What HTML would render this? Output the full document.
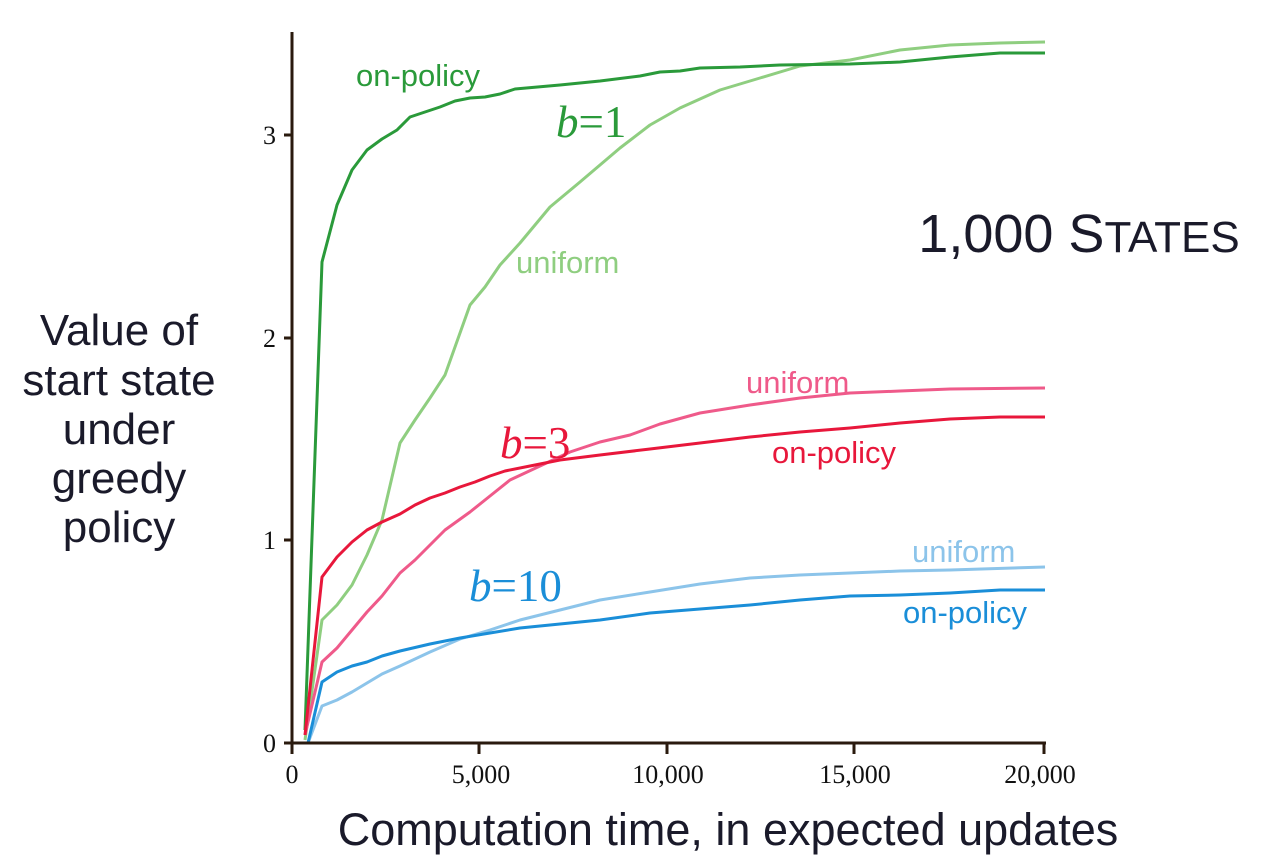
<!DOCTYPE html>
<html><head><meta charset="utf-8"><style>
html,body{margin:0;padding:0;background:#fff;}
svg{display:block;}
</style></head><body>
<svg width="1287" height="862" viewBox="0 0 1287 862" xmlns="http://www.w3.org/2000/svg">
<g fill="none" stroke-width="3" stroke-linejoin="round">
<polyline stroke="#8fce80" points="305,740 322,620 337,605 352,585 367,555 382,520 400,443 415,420 430,398 445,375 470,305 485,287 500,265 520,243 550,207 580,182 600,165 620,148 650,125 680,108 720,90 760,78 800,66 850,60 900,50 950,45 1000,43 1045,42"/>
<polyline stroke="#2a9a3a" points="305,730 322,262 337,205 352,170 367,150 382,139 397,130 410,117 425,112 440,107 455,101 470,98 485,97 500,94 515,89 560,85 600,81 640,76 660,72 680,71 700,68 740,67 780,65 850,64 900,62 950,57 1000,53 1045,53"/>
<polyline stroke="#ef5a8a" points="305,735 322,662 337,648 352,630 367,612 382,596 400,573 415,560 430,545 445,530 470,512 490,496 510,480 540,466 570,452 600,442 630,435 660,424 700,413 750,405 800,398 850,393 900,391 950,389 1045,388"/>
<polyline stroke="#e8173b" points="305,735 322,577 337,557 352,542 367,530 382,522 400,514 415,505 430,498 445,493 460,487 475,482 490,476 505,471 530,466 560,460 600,455 650,449 700,443 750,437 800,432 850,428 900,423 950,419 1000,417 1045,417"/>
<polyline stroke="#8cc4ea" points="308,743 322,706 337,700 352,692 367,683 382,674 400,666 430,652 460,639 490,630 520,620 560,610 600,600 650,592 700,584 750,578 800,575 850,573 900,571 950,570 1045,567"/>
<polyline stroke="#1a8ed8" points="308,743 322,682 337,672 352,666 367,662 382,656 400,651 430,644 460,638 490,633 520,628 560,624 600,620 650,613 700,609 750,605 800,600 850,596 900,595 950,593 1000,590 1045,590"/>
</g>
<g stroke="#2a1a0e" stroke-width="3">
<line x1="292" y1="32" x2="292" y2="745"/>
<line x1="290" y1="743" x2="1046" y2="743"/>
<line x1="292" y1="743" x2="292" y2="754"/>
<line x1="479" y1="743" x2="479" y2="754"/>
<line x1="667" y1="743" x2="667" y2="754"/>
<line x1="854" y1="743" x2="854" y2="754"/>
<line x1="1044" y1="743" x2="1044" y2="754"/>
<line x1="284" y1="743" x2="292" y2="743"/>
<line x1="284" y1="540" x2="292" y2="540"/>
<line x1="284" y1="338" x2="292" y2="338"/>
<line x1="284" y1="135" x2="292" y2="135"/>
</g>
<g font-family="Liberation Serif, serif" font-size="26" fill="#111">
<text x="276" y="752" text-anchor="end">0</text>
<text x="276" y="549" text-anchor="end">1</text>
<text x="276" y="347" text-anchor="end">2</text>
<text x="276" y="144" text-anchor="end">3</text>
<text x="292" y="783" text-anchor="middle">0</text>
<text x="481" y="783" text-anchor="middle">5,000</text>
<text x="668" y="783" text-anchor="middle">10,000</text>
<text x="855" y="783" text-anchor="middle">15,000</text>
<text x="1040" y="783" text-anchor="middle">20,000</text>
</g>
<g font-family="Liberation Sans, sans-serif" fill="#1a1a2a" font-size="44" text-anchor="middle">
<text x="119" y="345">Value of</text>
<text x="119" y="395">start state</text>
<text x="119" y="444">under</text>
<text x="119" y="493">greedy</text>
<text x="119" y="542">policy</text>
<text x="728" y="845" font-size="45">Computation time, in expected updates</text>
<text x="1079" y="252" font-size="54">1,000 S<tspan font-size="44">TATES</tspan></text>
</g>
<g font-family="Liberation Sans, sans-serif" font-size="31">
<text x="356" y="86" fill="#2a9a3a">on-policy</text>
<text x="516" y="273" fill="#8fce80">uniform</text>
<text x="746" y="393" fill="#ef5a8a">uniform</text>
<text x="772" y="463" fill="#e8173b">on-policy</text>
<text x="912" y="562" fill="#8cc4ea">uniform</text>
<text x="903" y="623" fill="#1a8ed8">on-policy</text>
</g>
<g font-family="Liberation Serif, serif" font-size="45">
<text x="556" y="137" fill="#2a9a3a"><tspan font-style="italic">b</tspan>=1</text>
<text x="500" y="458" fill="#e8173b"><tspan font-style="italic">b</tspan>=3</text>
<text x="469" y="601" fill="#1a8ed8"><tspan font-style="italic">b</tspan>=10</text>
</g>
</svg>
</body></html>
